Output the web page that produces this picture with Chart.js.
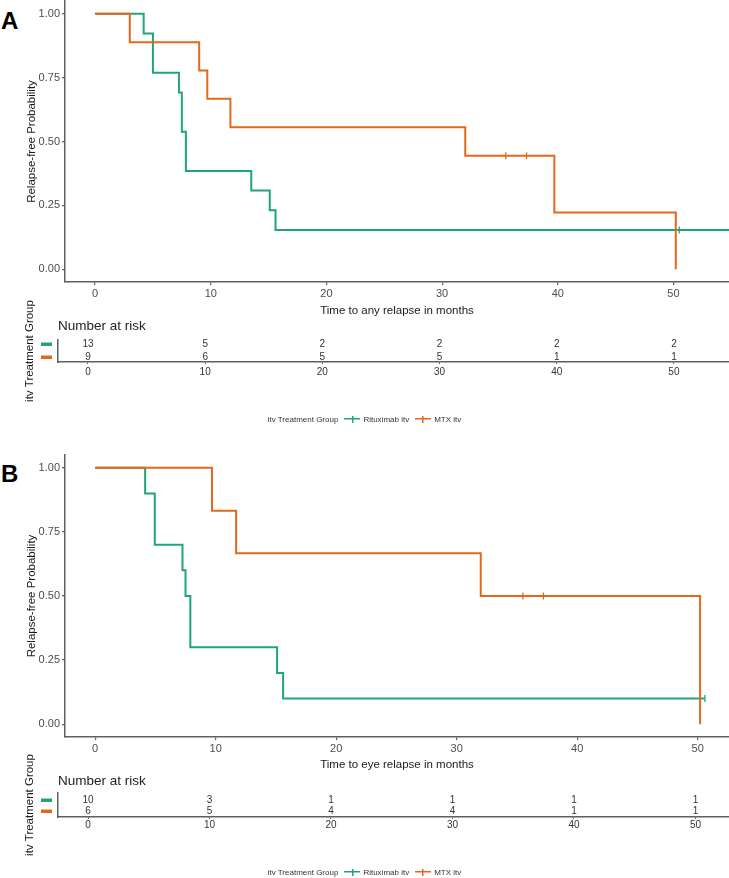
<!DOCTYPE html>
<html>
<head>
<meta charset="utf-8">
<script src="https://cdn.jsdelivr.net/npm/chart.js@4.4.0/dist/chart.umd.min.js"></script>
<style>
  body { margin: 0; background: #fff; font-family: "Liberation Sans", Arial, sans-serif; }
  #page { position: relative; width: 729px; height: 878px; overflow: hidden; background: #fff; }
  canvas { position: absolute; left: 0; }
  .tag { position: absolute; left: 1px; font-weight: bold; font-size: 24px; line-height: 24px; color: #000; }
  .legend { position: absolute; left: 0; width: 729px; text-align: center; font-size: 8px; line-height: 10px; color: #333; white-space: nowrap; }
  .key { display: inline-block; width: 16px; height: 8px; vertical-align: -1px; margin: 0 3px 0 6px; }
</style>
</head>
<body>
<div id="page">
  <div class="tag" style="top:9px">A</div>
  <canvas id="kmA" width="729" height="318" style="top:0px"></canvas>
  <canvas id="riskA" width="729" height="122" style="top:290px"></canvas>
  <div class="legend" style="top:415px">
    itv Treatment Group<span class="key" id="keyR1"></span>Rituximab itv<span class="key" id="keyM1"></span>MTX itv
  </div>

  <div class="tag" style="top:462px">B</div>
  <canvas id="kmB" width="729" height="332" style="top:440px"></canvas>
  <canvas id="riskB" width="729" height="125" style="top:740px"></canvas>
  <div class="legend" style="top:868px">
    itv Treatment Group<span class="key" id="keyR2"></span>Rituximab itv<span class="key" id="keyM2"></span>MTX itv
  </div>
</div>

<script>
// Axis ticks
const xTicks = [0, 10, 20, 30, 40, 50];
const yTicks = [0, 0.25, 0.5, 0.75, 1];
const riskTimes = [0, 10, 20, 30, 40, 50];

// Panel A - time to any relapse
const ritTimesA = [0, 4.2, 5.0, 7.25, 7.5, 7.85, 13.5, 15.1, 15.6, 55];
const ritSurvA  = [1, 0.923, 0.769, 0.692, 0.538, 0.385, 0.308, 0.231, 0.154, 0.154];
const ritCensA  = [50.5];
const mtxTimesA = [0, 3.0, 9.0, 9.7, 11.7, 32.0, 39.7, 50.2];
const mtxSurvA  = [1, 0.889, 0.778, 0.667, 0.556, 0.444, 0.222, 0];
const mtxCensA  = [35.5, 37.3];
const ritRiskA  = [13, 5, 2, 2, 2, 2];
const mtxRiskA  = [9, 6, 5, 5, 1, 1];

// Panel B - time to eye relapse
const ritTimesB = [0, 4.15, 4.95, 7.25, 7.5, 7.9, 15.1, 15.6, 50.6];
const ritSurvB  = [1, 0.9, 0.7, 0.6, 0.5, 0.3, 0.2, 0.1, 0.1];
const ritCensB  = [50.6];
const mtxTimesB = [0, 9.7, 11.7, 32.0, 50.2];
const mtxSurvB  = [1, 0.833, 0.667, 0.5, 0];
const mtxCensB  = [35.5, 37.2];
const ritRiskB  = [10, 3, 1, 1, 1, 1];
const mtxRiskB  = [6, 5, 4, 4, 1, 1];

const GREEN = '#1fa47c';
const ORANGE = '#e2691c';
const AXIS = '#5f5f5f';
const LABEL = '#4d4d4d';
const FONT = '"Liberation Sans", Arial, sans-serif';

// legend keys (line with a censor tick)
[['keyR1', GREEN], ['keyM1', ORANGE], ['keyR2', GREEN], ['keyM2', ORANGE]].forEach(([id, c]) => {
    document.getElementById(id).style.background =
        `linear-gradient(${c},${c}) center/100% 1.5px no-repeat, linear-gradient(${c},${c}) center/1.5px 7px no-repeat`;
});

function pts(xs, ys) {
    return xs.map((x, i) => ({ x: x, y: ys[i] }));
}

// survival value of a step curve at time t
function survAt(times, surv, t) {
    let v = surv[0];
    for (let i = 0; i < times.length; i++) {
        if (times[i] <= t) v = surv[i];
    }
    return v;
}

function fixedTicks(list) {
    return function (scale) {
        scale.ticks = list.map(v => ({ value: v }));
    };
}

// fixed axis size, no extra room for the edge labels
function fixSize(prop, size) {
    return function (s) {
        s[prop] = size;
        s.paddingTop = 0; s.paddingBottom = 0;
        s.paddingLeft = 0; s.paddingRight = 0;
    };
}

function kmChart(id, c) {
    const censor = (times, cens, surv, color) => ({
        data: cens.map(t => ({ x: t, y: survAt(times, surv, t) })),
        showLine: false,
        pointStyle: 'line',
        pointRotation: 90,
        pointRadius: 3.5,
        pointBorderColor: color,
        pointBorderWidth: 1.3,
        borderColor: color
    });
    const curve = (times, surv, color) => ({
        data: pts(times, surv),
        stepped: true,
        borderColor: color,
        borderWidth: 2,
        pointRadius: 0,
        fill: false
    });

    return new Chart(document.getElementById(id), {
        type: 'line',
        data: {
            datasets: [
                censor(c.mtxTimes, c.mtxCens, c.mtxSurv, ORANGE),
                censor(c.ritTimes, c.ritCens, c.ritSurv, GREEN),
                curve(c.mtxTimes, c.mtxSurv, ORANGE),
                curve(c.ritTimes, c.ritSurv, GREEN)
            ]
        },
        options: {
            responsive: false,
            animation: false,
            events: [],
            layout: { autoPadding: false, padding: { top: c.padTop, left: 0, right: 0, bottom: 0 } },
            plugins: { legend: { display: false }, tooltip: { enabled: false } },
            scales: {
                x: {
                    type: 'linear',
                    min: c.xMin,
                    max: c.xMax,
                    afterBuildTicks: fixedTicks(xTicks),
                    afterFit: fixSize('height', c.xH),
                    ticks: { font: { family: FONT, size: 11 }, color: LABEL, padding: 2, maxRotation: 0 },
                    grid: { drawOnChartArea: false, tickLength: 3, color: AXIS, lineWidth: 1.2 },
                    border: { display: true, color: AXIS, width: 1.5 },
                    title: {
                        display: true, text: c.xTitle, color: '#1a1a1a',
                        font: { family: FONT, size: 11.5 }, padding: { top: 0, bottom: 0 }
                    }
                },
                y: {
                    type: 'linear',
                    min: -0.05,
                    max: 1.05,
                    afterBuildTicks: fixedTicks(yTicks),
                    afterFit: fixSize('width', 65),
                    ticks: {
                        font: { family: FONT, size: 11 }, color: LABEL, padding: 2,
                        callback: v => v.toFixed(2)
                    },
                    grid: { drawOnChartArea: false, tickLength: 3, color: AXIS, lineWidth: 1.2 },
                    border: { display: true, color: AXIS, width: 1.5 },
                    title: {
                        display: true, text: 'Relapse-free Probability', color: '#1a1a1a',
                        font: { family: FONT, size: 11.5 }, padding: { top: 25, bottom: 0 }
                    }
                }
            }
        }
    });
}

// draws the numbers at risk, the row keys and the table heading
const riskLabels = {
    id: 'riskLabels',
    afterDatasetsDraw(chart) {
        const ctx = chart.ctx;
        const yScale = chart.scales.y;
        ctx.save();
        ctx.font = '10px ' + FONT;
        ctx.fillStyle = '#333';
        ctx.textAlign = 'center';
        ctx.textBaseline = 'middle';
        chart.data.datasets.forEach((ds, di) => {
            const meta = chart.getDatasetMeta(di);
            meta.data.forEach((el, i) => {
                ctx.fillText(String(ds.data[i].n), el.x, el.y);
            });
            // coloured row key
            const py = yScale.getPixelForValue(ds.data[0].y);
            ctx.fillStyle = ds.keyColor;
            ctx.fillRect(41, Math.round(py) - 1.5, 11, 3.5);
            ctx.fillStyle = '#333';
        });
        ctx.font = '13.5px ' + FONT;
        ctx.fillStyle = '#222';
        ctx.textAlign = 'left';
        ctx.fillText('Number at risk', chart.chartArea.left, chart.chartArea.top - chart.options.headingGap);
        ctx.restore();
    }
};

function riskChart(id, c) {
    const row = (vals, level, color) => ({
        data: riskTimes.map((t, i) => ({ x: t, y: level, n: vals[i] })),
        showLine: false,
        pointRadius: 0,
        keyColor: color
    });
    return new Chart(document.getElementById(id), {
        type: 'line',
        data: { datasets: [row(c.ritRisk, 2, GREEN), row(c.mtxRisk, 1, ORANGE)] },
        plugins: [riskLabels],
        options: {
            responsive: false,
            animation: false,
            events: [],
            headingGap: c.headingGap,
            layout: { autoPadding: false, padding: { top: c.padTop, left: 0, right: 0, bottom: 0 } },
            plugins: { legend: { display: false }, tooltip: { enabled: false } },
            scales: {
                x: {
                    type: 'linear',
                    min: c.xMin,
                    max: c.xMax,
                    afterBuildTicks: fixedTicks(riskTimes),
                    afterFit: fixSize('height', c.xH),
                    ticks: { font: { family: FONT, size: 10 }, color: '#333', padding: c.tickPad, maxRotation: 0 },
                    grid: { drawOnChartArea: false, tickLength: 2, color: AXIS, lineWidth: 1 },
                    border: { display: true, color: AXIS, width: 1.5 }
                },
                y: {
                    type: 'linear',
                    min: c.yMin,
                    max: c.yMax,
                    afterFit: fixSize('width', 58),
                    ticks: { display: false },
                    grid: { display: false },
                    border: { display: true, color: AXIS, width: 1.5 },
                    title: {
                        display: true, text: 'itv Treatment Group', color: '#1a1a1a',
                        font: { family: FONT, size: 11.5 }, padding: { top: 23, bottom: 0 }
                    }
                }
            }
        }
    });
}

kmChart('kmA', {
    ritTimes: ritTimesA, ritSurv: ritSurvA, ritCens: ritCensA,
    mtxTimes: mtxTimesA, mtxSurv: mtxSurvA, mtxCens: mtxCensA,
    xMin: -2.6, xMax: 54.8, padTop: 1, xH: 36,
    xTitle: 'Time to any relapse in months'
});
riskChart('riskA', {
    ritRisk: ritRiskA, mtxRisk: mtxRiskA,
    xMin: -2.56, xMax: 54.7, yMin: 0.6, yMax: 2.3,
    padTop: 50, xH: 50, tickPad: 2, headingGap: 14
});

kmChart('kmB', {
    ritTimes: ritTimesB, ritSurv: ritSurvB, ritCens: ritCensB,
    mtxTimes: mtxTimesB, mtxSurv: mtxSurvB, mtxCens: mtxCensB,
    xMin: -2.5, xMax: 52.6, padTop: 15, xH: 35,
    xTitle: 'Time to eye relapse in months'
});
riskChart('riskB', {
    ritRisk: ritRiskB, mtxRisk: mtxRiskB,
    xMin: -2.47, xMax: 52.76, yMin: 0.45, yMax: 2.64,
    padTop: 53, xH: 48, tickPad: 0, headingGap: 12
});
</script>
</body>
</html>
